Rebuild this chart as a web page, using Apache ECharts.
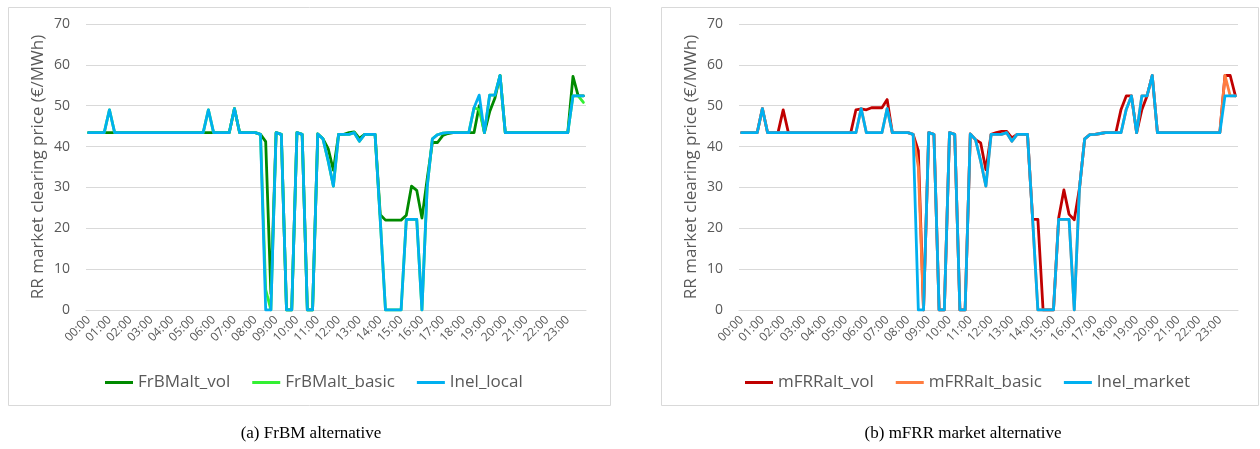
<!DOCTYPE html>
<html>
<head>
<meta charset="utf-8">
<script src="https://cdn.jsdelivr.net/npm/echarts@6/dist/echarts.min.js"></script>
<style>
  html, body { margin: 0; padding: 0; background: #fff; }
  #chart { width: 1260px; height: 449px; }
</style>
</head>
<body>
<div id="chart"></div>
<script>
// tick labels: one per hour, data is in 15 min steps
const hours = ["00", "01", "02", "03", "04", "05", "06", "07", "08", "09", "10", "11",
  "12", "13", "14", "15", "16", "17", "18", "19", "20", "21", "22", "23"];
const quarters = ["00", "15", "30", "45"];
const categories = [];
hours.forEach((h) => quarters.forEach((q) => categories.push(h + ":" + q)));

const yTicks = [0, 10, 20, 30, 40, 50, 60, 70];

// (a) FrBM alternative
const frbmVol = [
  43.4, 43.4, 43.4, 43.4, 43.4, 43.4, 43.4, 43.4, 43.4, 43.4, 43.4, 43.4,
  43.4, 43.4, 43.4, 43.4, 43.4, 43.4, 43.4, 43.4, 43.4, 43.4, 43.4, 43.4,
  43.4, 43.4, 43.4, 43.4, 49.3, 43.4, 43.4, 43.4, 43.4, 43.0, 41.2, 4.0,
  43.4, 43.0, 0, 0, 43.4, 43.0, 0, 0, 43.1, 41.9, 39.5, 34.2,
  43.0, 43.0, 43.4, 43.6, 42.0, 43.0, 43.0, 43.0, 23.3, 22.0, 22.0, 22.0,
  22.0, 23.2, 30.3, 29.3, 22.5, 32.0, 41.0, 41.0, 42.7, 43.2, 43.4, 43.4,
  43.4, 43.4, 43.4, 50.0, 43.4, 48.5, 51.8, 57.4, 43.4, 43.4, 43.4, 43.4,
  43.4, 43.4, 43.4, 43.4, 43.4, 43.4, 43.4, 43.4, 43.4, 57.2, 52.4, 52.4,
];
const frbmBasic = [
  43.4, 43.4, 43.4, 43.4, 49.0, 43.4, 43.4, 43.4, 43.4, 43.4, 43.4, 43.4,
  43.4, 43.4, 43.4, 43.4, 43.4, 43.4, 43.4, 43.4, 43.4, 43.4, 43.4, 49.0,
  43.4, 43.4, 43.4, 43.4, 49.3, 43.4, 43.4, 43.4, 43.4, 43.0, 5.0, 0,
  43.4, 43.0, 0, 0, 43.4, 43.0, 0, 0, 43.1, 41.9, 36.5, 30.3,
  43.0, 43.0, 43.0, 43.4, 41.3, 43.0, 43.0, 43.0, 22.0, 0, 0, 0,
  0, 22.2, 22.2, 22.2, 0, 30.0, 41.9, 42.9, 43.3, 43.4, 43.4, 43.4,
  43.4, 43.4, 49.5, 49.0, 43.4, 52.6, 52.6, 57.4, 43.4, 43.4, 43.4, 43.4,
  43.4, 43.4, 43.4, 43.4, 43.4, 43.4, 43.4, 43.4, 43.4, 52.4, 52.4, 50.8,
];
const inelLocal = [
  43.4, 43.4, 43.4, 43.4, 49.0, 43.4, 43.4, 43.4, 43.4, 43.4, 43.4, 43.4,
  43.4, 43.4, 43.4, 43.4, 43.4, 43.4, 43.4, 43.4, 43.4, 43.4, 43.4, 49.0,
  43.4, 43.4, 43.4, 43.4, 49.3, 43.4, 43.4, 43.4, 43.4, 43.0, 0, 0,
  43.4, 43.0, 0, 0, 43.4, 43.0, 0, 0, 43.1, 41.9, 36.5, 30.3,
  43.0, 43.0, 43.0, 43.4, 41.3, 43.0, 43.0, 43.0, 22.0, 0, 0, 0,
  0, 22.2, 22.2, 22.2, 0, 30.0, 41.9, 42.9, 43.3, 43.4, 43.4, 43.4,
  43.4, 43.4, 49.5, 52.6, 43.4, 52.6, 52.6, 57.4, 43.4, 43.4, 43.4, 43.4,
  43.4, 43.4, 43.4, 43.4, 43.4, 43.4, 43.4, 43.4, 43.4, 52.4, 52.4, 52.4,
];

// (b) mFRR market alternative
const mfrrVol = [
  43.4, 43.4, 43.4, 43.4, 49.3, 43.4, 43.4, 43.4, 49.0, 43.4, 43.4, 43.4,
  43.4, 43.4, 43.4, 43.4, 43.4, 43.4, 43.4, 43.4, 43.4, 43.4, 49.0, 49.2,
  49.0, 49.5, 49.5, 49.5, 51.5, 43.4, 43.4, 43.4, 43.4, 43.0, 39.0, 0,
  43.4, 43.0, 0, 0, 43.4, 43.0, 0, 0, 43.1, 41.7, 40.9, 34.3,
  43.0, 43.4, 43.7, 43.7, 42.1, 43.0, 43.0, 43.0, 22.2, 22.2, 0, 0,
  0, 22.5, 29.4, 23.4, 22.1, 29.8, 41.9, 42.9, 43.0, 43.2, 43.4, 43.4,
  43.4, 49.1, 52.4, 52.4, 43.4, 49.0, 52.4, 57.4, 43.4, 43.4, 43.4, 43.4,
  43.4, 43.4, 43.4, 43.4, 43.4, 43.4, 43.4, 43.4, 43.4, 57.4, 57.4, 52.4,
];
const mfrrBasic = [
  43.4, 43.4, 43.4, 43.4, 49.3, 43.4, 43.4, 43.4, 43.4, 43.4, 43.4, 43.4,
  43.4, 43.4, 43.4, 43.4, 43.4, 43.4, 43.4, 43.4, 43.4, 43.4, 43.4, 49.3,
  43.4, 43.4, 43.4, 43.4, 49.3, 43.4, 43.4, 43.4, 43.4, 43.0, 35.0, 0,
  43.4, 43.0, 0, 0, 43.4, 43.0, 0, 0, 43.1, 41.7, 36.4, 30.3,
  43.0, 43.0, 43.0, 43.4, 41.3, 43.0, 43.0, 43.0, 22.0, 0, 0, 0,
  0, 22.2, 22.2, 22.2, 0, 29.8, 41.9, 42.9, 43.0, 43.2, 43.4, 43.4,
  43.4, 43.4, 49.1, 52.4, 43.4, 52.4, 52.4, 57.4, 43.4, 43.4, 43.4, 43.4,
  43.4, 43.4, 43.4, 43.4, 43.4, 43.4, 43.4, 43.4, 43.4, 57.4, 52.4, 52.4,
];
const inelMarket = [
  43.4, 43.4, 43.4, 43.4, 49.3, 43.4, 43.4, 43.4, 43.4, 43.4, 43.4, 43.4,
  43.4, 43.4, 43.4, 43.4, 43.4, 43.4, 43.4, 43.4, 43.4, 43.4, 43.4, 49.3,
  43.4, 43.4, 43.4, 43.4, 49.3, 43.4, 43.4, 43.4, 43.4, 43.0, 0, 0,
  43.4, 43.0, 0, 0, 43.4, 43.0, 0, 0, 43.1, 41.7, 36.4, 30.3,
  43.0, 43.0, 43.0, 43.4, 41.3, 43.0, 43.0, 43.0, 22.0, 0, 0, 0,
  0, 22.2, 22.2, 22.2, 0, 29.8, 41.9, 42.9, 43.0, 43.2, 43.4, 43.4,
  43.4, 43.4, 49.1, 52.4, 43.4, 52.4, 52.4, 57.4, 43.4, 43.4, 43.4, 43.4,
  43.4, 43.4, 43.4, 43.4, 43.4, 43.4, 43.4, 43.4, 43.4, 52.4, 52.4, 52.4,
];

const font = "'Open Sans', Lato, sans-serif";
const grey = "#595959";
const gridColor = "#d9d9d9";

function xAxisFor(gridIndex) {
  return {
    type: "category",
    gridIndex,
    data: categories,
    boundaryGap: true,
    axisLine: { show: true, lineStyle: { color: gridColor } },
    axisTick: { show: false },
    axisLabel: {
      interval: 3,
      rotate: 45,
      margin: 8,
      color: grey,
      fontFamily: font,
      fontSize: 12,
    },
  };
}

function yAxisFor(gridIndex) {
  return {
    type: "value",
    gridIndex,
    min: yTicks[0],
    max: yTicks[yTicks.length - 1],
    interval: 10,
    name: "RR market clearing price (€/MWh)",
    nameLocation: "middle",
    nameGap: 39,
    nameTextStyle: { color: grey, fontFamily: font, fontSize: 17 },
    axisLine: { show: false },
    axisTick: { show: false },
    axisLabel: { margin: 16, color: grey, fontFamily: font, fontSize: 14 },
    splitLine: { lineStyle: { color: gridColor, width: 1 } },
  };
}

function lineSeries(name, data, color, axisIndex) {
  return {
    name,
    type: "line",
    data,
    xAxisIndex: axisIndex,
    yAxisIndex: axisIndex,
    showSymbol: false,
    symbol: "none",
    animation: false,
    lineStyle: { color, width: 2.8, join: "round", cap: "round" },
    itemStyle: { color },
  };
}

function legendFor(left, names) {
  return {
    left,
    top: 369,
    data: names,
    icon: "rect",
    itemWidth: 28,
    itemHeight: 3,
    itemGap: 22,
    textStyle: { color: grey, fontFamily: font, fontSize: 17 },
  };
}

const options = {
  animation: false,
  backgroundColor: "#fff",
  grid: [
    { left: 86, right: 674, top: 24, bottom: 139 },
    { left: 739, right: 22, top: 24, bottom: 139 },
  ],
  xAxis: [xAxisFor(0), xAxisFor(1)],
  yAxis: [yAxisFor(0), yAxisFor(1)],
  legend: [
    legendFor(100, ["FrBMalt_vol", "FrBMalt_basic", "Inel_local"]),
    legendFor(740, ["mFRRalt_vol", "mFRRalt_basic", "Inel_market"]),
  ],
  series: [
    lineSeries("FrBMalt_vol", frbmVol, "#008a00", 0),
    lineSeries("FrBMalt_basic", frbmBasic, "#33f033", 0),
    lineSeries("Inel_local", inelLocal, "#00b0f0", 0),
    lineSeries("mFRRalt_vol", mfrrVol, "#c00000", 1),
    lineSeries("mFRRalt_basic", mfrrBasic, "#ff7c3f", 1),
    lineSeries("Inel_market", inelMarket, "#00b0f0", 1),
  ],
  graphic: [
    {
      type: "rect",
      shape: { x: 8.5, y: 7.5, width: 602, height: 398 },
      style: { fill: "none", stroke: gridColor, lineWidth: 1 },
    },
    {
      type: "rect",
      shape: { x: 661.5, y: 7.5, width: 597, height: 398 },
      style: { fill: "none", stroke: gridColor, lineWidth: 1 },
    },
    {
      type: "text",
      x: 311,
      y: 434,
      style: {
        text: "(a) FrBM alternative",
        fill: "#000",
        font: "17px 'Liberation Serif', 'DejaVu Serif', serif",
        textAlign: "center",
        textVerticalAlign: "middle",
      },
    },
    {
      type: "text",
      x: 963,
      y: 434,
      style: {
        text: "(b) mFRR market alternative",
        fill: "#000",
        font: "17px 'Liberation Serif', 'DejaVu Serif', serif",
        textAlign: "center",
        textVerticalAlign: "middle",
      },
    },
  ],
};

const chart = echarts.init(document.getElementById("chart"), null, { renderer: "canvas" });
chart.setOption(options);
</script>
</body>
</html>
